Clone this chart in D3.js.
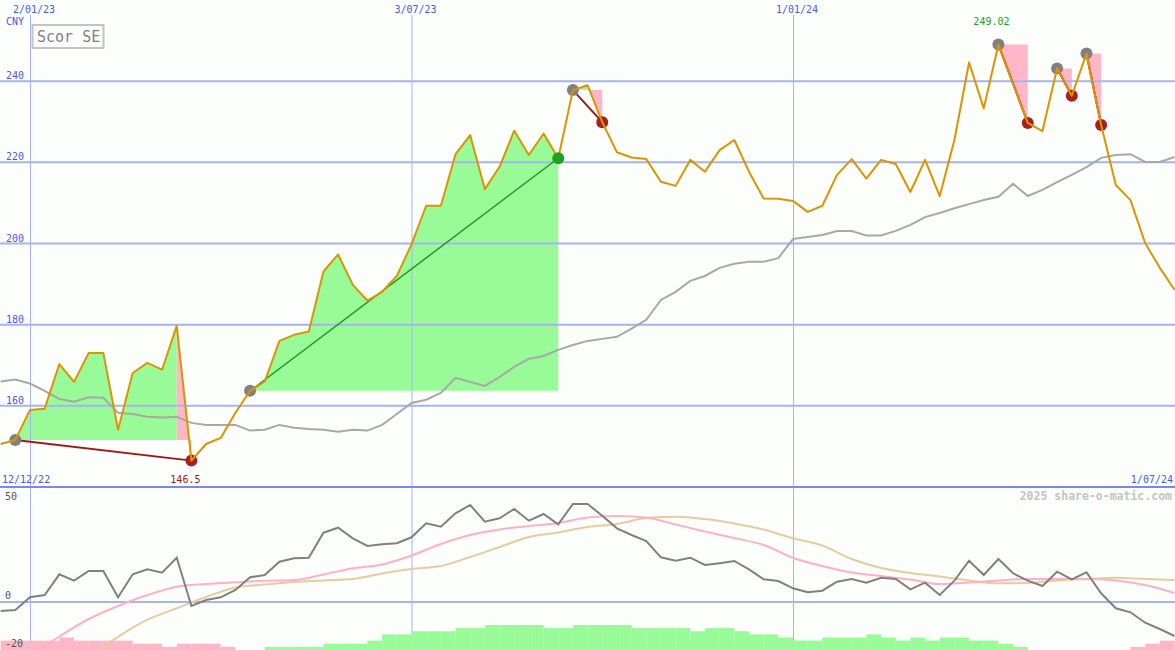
<!DOCTYPE html>
<html><head><meta charset="utf-8">
<script src="https://cdn.jsdelivr.net/npm/d3@7"></script>
<style>body{margin:0;background:#fcfefc}svg{display:block}text{font-family:"DejaVu Sans Mono",monospace}</style>
</head><body><svg id="c" width="1175" height="650"></svg>
<script>
// ---- data (weekly closes, starting Monday 19 Dec 2022) ----
const firstWeek = "2022-12-19";
const price = [150.6,151.6,159.0,159.3,170.3,165.9,173.0,173.0,154.1,168.1,170.6,168.9,179.7,
  146.5,150.6,152.1,158.3,163.7,166.0,176.0,177.5,178.3,193.1,
  197.3,189.8,185.9,188.1,192.0,199.8,209.3,209.3,222.0,226.7,
  213.4,218.9,227.8,221.8,227.1,221.0,237.8,239.0,229.9,222.5,
  221.2,220.8,215.2,214.2,220.6,217.7,223.0,225.5,217.7,211.1,
  211.0,210.5,207.8,209.3,216.9,220.8,216.0,220.6,219.6,212.7,
  220.6,211.7,225.5,244.6,233.3,249.02,239.3,229.7,227.7,243.1,
  236.4,246.8,229.2,214.4,210.7,200.1,194.0,188.6];
const movingAvg = [166.0,166.5,165.5,163.7,161.7,161.0,162.1,162.0,158.3,158.0,
  157.3,157.1,157.3,155.8,155.3,155.3,155.3,153.9,154.1,155.3,
  154.6,154.3,154.1,153.6,154.1,153.9,155.3,158.0,160.7,161.5,
  163.2,166.9,165.9,164.9,167.1,169.6,171.6,172.3,173.8,175.0,
  176.0,176.5,177.0,179.0,181.2,186.1,188.1,190.8,192.0,194.0,
  195.0,195.5,195.5,196.4,201.1,201.6,202.1,203.1,203.1,202.0,
  202.0,203.1,204.6,206.5,207.5,208.7,209.7,210.7,211.5,214.7,
  211.7,213.2,215.1,216.9,218.8,221.1,221.8,222.0,220.1,220.1,221.3];
// swing segments: index of start and end week
const swingFrom = [1, 17, 39, 68, 72, 74];
const swingTo   = [13, 38, 41, 70, 73, 75];

// lower panel
const momentum = [-4.5,-4.0,2.35,3.5,13.85,10.65,15.5,15.5,2.35,13.85,
  16.35,14.65,22.15,-2.0,1.0,2.35,6.0,12.35,13.5,20.15,
  21.85,22.15,34.65,37.15,31.85,28.0,28.85,29.35,32.35,39.35,
  37.65,44.35,48.5,40.15,41.85,46.5,40.65,44.0,38.85,49.0,
  49.0,43.15,36.85,33.5,30.5,22.35,20.65,22.15,18.5,19.35,
  20.5,16.35,11.35,10.5,6.85,4.85,5.65,10.15,11.5,9.65,
  12.15,11.5,6.35,9.65,3.5,10.65,20.65,13.5,21.5,14.35,
  10.65,8.0,15.15,11.35,14.85,4.35,-3.15,-5.15,-10.35,-13.5,-17.0];
const signalIdx = [2,4,6,8,10,12,14,16,18,20,22,24,26,28,30,32,34,36,38,40,
  42,44,46,48,50,52,54,56,58,60,62,64,66,68,70,72,74,76,78,80];
const signalFast = [-26.5,-17.25,-8.5,-2.0,3.5,7.65,9.0,9.85,10.6,11.0,
  13.75,16.85,18.75,23.25,29.0,33.5,36.25,38.0,39.5,42.25,
  43.0,42.25,38.75,35.25,32.0,28.5,22.15,18.0,14.75,13.0,
  11.25,9.0,9.75,10.75,11.5,11.5,11.5,10.75,8.5,4.5];
const slowIdx = [6,8,10,12,14,16,18,20,22,24,26,28,30,32,34,36,38,40,
  42,44,46,48,50,52,54,56,58,60,62,64,66,68,70,72,74,76,78,80];
const signalSlow = [-27.4,-17.4,-8.85,-3.15,2.5,7.25,8.75,10.0,10.75,11.5,
  14.25,16.5,18.0,22.5,27.5,32.5,34.75,37.5,39.0,42.0,
  42.65,41.5,39.25,36.25,31.85,28.25,21.5,17.0,14.5,12.75,
  10.75,9.35,9.5,10.75,11.5,12.15,11.5,11.0];
const histogram = [-3,-3,-3,-3,-4,-3,-3,-3,-3,-2, -2,-1,-2,-2,-2,-1,0,0,1,1,
  1,1,2,2,2,3,5,5,6,6, 6,7,7,8,8,8,8,7,7,8, 8,8,8,7,7,7,7,6,7,7,
  6,5,5,4,3,3,4,4,4,5, 4,3,4,3,4,4,3,3,2,1, 0,0,0,0,0,0,0,-1,-2,-3,-3];

// axes
const yTicks = [160,180,200,220,240];
const gridDates = ["2023-01-02","2023-07-03","2024-01-01"];
const gridLabels = ["2/01/23","3/07/23","1/01/24"];
const rangeStartLabel = "12/12/22", rangeEndLabel = "1/07/24";
const lowTicks = [50,0,-20];
const title = "Scor SE", currency = "CNY", credit = "2025 share-o-matic.com";

// ---- drawing ----
const W = 1175, H = 650, MAIN_B = 487, LOW_T = 488;
const svg = d3.select("#c");
const parse = d3.utcParse("%Y-%m-%d");
const start = parse(firstWeek);
const dates = d3.utcMonday.range(start, d3.utcMonday.offset(start, price.length));
const x = d3.scaleUtc().domain([parse("2023-01-02"), parse("2024-01-01")]).range([30, 793]);
const y = d3.scaleLinear().domain([140, 260]).range([MAIN_B, 0]);
const lowY = d3.scaleLinear().domain([-24, 57]).range([H, LOW_T]);
const histH = d3.scaleLinear().domain([0, 8]).range([0, 25]);

svg.append("rect").attr("width", W).attr("height", H).attr("fill", "#fcfefc");
const defs = svg.append("defs");
defs.append("clipPath").attr("id", "cm").append("rect").attr("width", W).attr("height", MAIN_B);
defs.append("clipPath").attr("id", "cl").append("rect").attr("y", LOW_T).attr("width", W).attr("height", H - LOW_T);

const fillG = svg.append("g").attr("clip-path", "url(#cm)");
const gridG = svg.append("g");
const main = svg.append("g").attr("clip-path", "url(#cm)");
const GREEN = "#98fb98", PINK = "#ffb6c6";

// swing fills
const swings = swingFrom.map((a, i) => ({a, b: swingTo[i], up: price[swingTo[i]] >= price[a]}));
swings.forEach(s => {
  let peak = s.a;
  for (let i = s.a; i <= s.b; i++) if (price[i] > price[peak]) peak = i;
  const gEnd = s.up ? s.b : peak;
  const area = d3.area().x(i => x(dates[i])).y0(y(price[s.a])).y1(i => y(price[i]));
  if (gEnd > s.a) fillG.append("path").attr("d", area(d3.range(s.a, gEnd + 1))).attr("fill", GREEN);
  if (!s.up && peak < s.b) fillG.append("path").attr("d", area(d3.range(peak, s.b + 1))).attr("fill", PINK);
});

// grid
const GRID = "#a6b2f2";
gridG.selectAll(".hg").data(yTicks).join("line")
  .attr("x1", 0).attr("x2", W).attr("y1", d => y(d)).attr("y2", d => y(d))
  .attr("stroke", GRID).attr("stroke-width", 2);
gridG.selectAll(".vg").data(gridDates).join("line")
  .attr("x1", d => x(parse(d)) + 0.5).attr("x2", d => x(parse(d)) + 0.5)
  .attr("y1", 15).attr("y2", H).attr("stroke", GRID).attr("stroke-width", 1);
gridG.append("line").attr("x1", 0).attr("x2", W).attr("y1", lowY(0)).attr("y2", lowY(0))
  .attr("stroke", GRID).attr("stroke-width", 2);

// moving average
main.append("path").datum(movingAvg)
  .attr("d", d3.line().x((d, i) => x(dates[i])).y(d => y(d)))
  .attr("fill", "none").attr("stroke", "#a8a8a8").attr("stroke-width", 2);

// trend lines + markers
swings.forEach(s => {
  main.append("line")
    .attr("x1", x(dates[s.a])).attr("y1", y(price[s.a]))
    .attr("x2", x(dates[s.b])).attr("y2", y(price[s.b]))
    .attr("stroke", s.up ? "#229922" : "#a01818").attr("stroke-width", s.up ? 1.5 : 2);
});
swings.forEach(s => {
  main.append("circle").attr("cx", x(dates[s.a])).attr("cy", y(price[s.a])).attr("r", 6).attr("fill", "#808080");
  if (!s.up) main.append("circle").attr("cx", x(dates[s.b])).attr("cy", y(price[s.b])).attr("r", 6).attr("fill", "#a52020");
});

// price line
main.append("path").datum(price)
  .attr("d", d3.line().x((d, i) => x(dates[i])).y(d => y(d)))
  .attr("fill", "none").attr("stroke", "#dc9400").attr("stroke-width", 2).attr("stroke-linejoin", "round");

// up-swing end markers on top
swings.filter(s => s.up).forEach(s => {
  main.append("circle").attr("cx", x(dates[s.b])).attr("cy", y(price[s.b])).attr("r", 6).attr("fill", "#22a022");
});

// divider
svg.append("line").attr("x1", 0).attr("x2", W).attr("y1", MAIN_B).attr("y2", MAIN_B)
  .attr("stroke", "#7888ee").attr("stroke-width", 2);

// lower panel
const low = svg.append("g").attr("clip-path", "url(#cl)");
low.selectAll("rect.h").data(histogram).join("rect")
  .attr("x", (d, i) => x(dates[i]))
  .attr("width", (d, i) => (i + 1 < dates.length ? x(dates[i + 1]) : x(d3.utcMonday.offset(dates[i], 1))) - x(dates[i]))
  .attr("y", d => H - histH(Math.abs(d)))
  .attr("height", d => histH(Math.abs(d)))
  .attr("fill", d => d >= 0 ? GREEN : PINK);
low.append("path").datum(signalSlow)
  .attr("d", d3.line().x((d, i) => x(dates[slowIdx[i]])).y(d => lowY(d)).curve(d3.curveMonotoneX))
  .attr("fill", "none").attr("stroke", "#e6cc9e").attr("stroke-width", 2);
low.append("path").datum(signalFast)
  .attr("d", d3.line().x((d, i) => x(dates[signalIdx[i]])).y(d => lowY(d)).curve(d3.curveMonotoneX))
  .attr("fill", "none").attr("stroke", "#ffb0c4").attr("stroke-width", 2);
low.append("path").datum(momentum)
  .attr("d", d3.line().x((d, i) => x(dates[i])).y(d => lowY(d)))
  .attr("fill", "none").attr("stroke", "#808080").attr("stroke-width", 2);

// ---- texts ----
const BLUE = "#4858ea";
svg.selectAll(".yl").data(yTicks).join("text")
  .attr("x", 24).attr("y", d => y(d) - 2).attr("text-anchor", "end")
  .attr("font-size", 10).attr("fill", BLUE).text(d => d);
svg.append("text").attr("x", 6).attr("y", 25).attr("font-size", 10).attr("fill", BLUE).text(currency);
svg.selectAll(".dl").data(gridDates).join("text")
  .attr("x", d => x(parse(d)) + 4).attr("y", 12.5).attr("text-anchor", "middle")
  .attr("font-size", 10).attr("fill", BLUE).text((d, i) => gridLabels[i]);
svg.append("text").attr("x", 2).attr("y", 483).attr("font-size", 10).attr("fill", BLUE).text(rangeStartLabel);
svg.append("text").attr("x", 1173).attr("y", 483).attr("text-anchor", "end").attr("font-size", 10).attr("fill", BLUE).text(rangeEndLabel);
svg.append("text").attr("x", 1172).attr("y", 500).attr("text-anchor", "end").attr("font-size", 11.5)
  .attr("font-weight", "bold").attr("fill", "#c4c4c4").text(credit);

// title box
svg.append("rect").attr("x", 32.5).attr("y", 25).attr("width", 71).attr("height", 23)
  .attr("fill", "#fcfefc").attr("stroke", "#c4c4c4").attr("stroke-width", 2);
svg.append("text").attr("x", 37).attr("y", 42).attr("font-size", 15).attr("fill", "#808080").text(title);

// min / max labels
const iMin = d3.minIndex(price), iMax = d3.maxIndex(price);
svg.append("text").attr("x", x(dates[iMin]) - 6).attr("y", 483).attr("text-anchor", "middle")
  .attr("font-size", 10).attr("fill", "#a01818").text(price[iMin]);
svg.append("text").attr("x", x(dates[iMax]) - 7).attr("y", 25).attr("text-anchor", "middle")
  .attr("font-size", 10).attr("fill", "#22a022").text(price[iMax]);

// lower axis labels
svg.selectAll(".ll").data(lowTicks).join("text")
  .attr("x", 5)
  .attr("y", (d, i) => i === lowTicks.length - 1 ? H - 3 : Math.max(500, lowY(d) - 3))
  .attr("font-size", 10).attr("fill", "#555555").text(d => d);
</script></body></html>
